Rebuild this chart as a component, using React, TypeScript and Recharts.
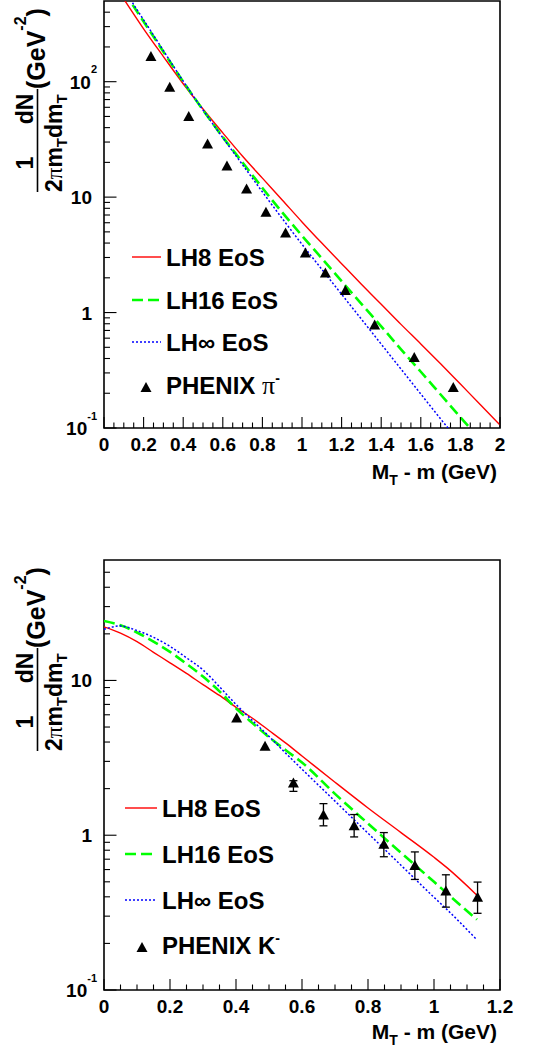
import React from 'react'
import { ComposedChart, Line, Scatter, XAxis, YAxis, ErrorBar, ReferenceArea, Legend } from 'recharts'

const FONT = '"Liberation Sans", Arial, Helvetica, sans-serif'
const SERIF = '"Liberation Serif", "Times New Roman", serif'
const RED = '#ff0000'
const GREEN = '#00ff00'
const BLUE = '#0000ff'

// ---- top panel: pions ----
const piCurveX = [0.1, 0.2, 0.3, 0.4, 0.5, 0.6, 0.7, 0.8, 0.9, 1.0, 1.1, 1.2, 1.3, 1.4, 1.5, 1.6, 1.7, 1.8, 1.9, 2.0]
const lh8Pi = [520, 287, 165, 96, 58, 36, 22.6, 14.6, 9.45, 6.1, 4.0, 2.65, 1.76, 1.18, 0.79, 0.535, 0.36, 0.24, 0.16, 0.106]
const lh16PiX = [0.1, 0.2, 0.3, 0.4, 0.5, 0.6, 0.7, 0.8, 0.9, 1.0, 1.1, 1.2, 1.3, 1.4, 1.5, 1.6, 1.7, 1.8, 1.86]
const lh16Pi = [604, 332, 182, 100, 56.9, 33.1, 19.95, 12.0, 7.38, 4.63, 2.95, 1.87, 1.19, 0.76, 0.48, 0.307, 0.195, 0.124, 0.095]
const lhInfPiX = [0.1, 0.2, 0.3, 0.4, 0.5, 0.6, 0.7, 0.8, 0.9, 1.0, 1.1, 1.2, 1.3, 1.4, 1.5, 1.6, 1.7, 1.75]
const lhInfPi = [631, 343, 186, 101, 56.9, 32.7, 19.05, 11.1, 6.53, 3.9, 2.37, 1.44, 0.877, 0.533, 0.324, 0.197, 0.12, 0.094]

const phenixPiX = [0.237, 0.332, 0.428, 0.523, 0.621, 0.72, 0.818, 0.917, 1.017, 1.118, 1.219, 1.367, 1.567, 1.764]
const phenixPiY = [167, 90.5, 50.4, 29.2, 18.8, 11.9, 7.48, 4.93, 3.31, 2.22, 1.57, 0.79, 0.413, 0.227]

const piXMajor = [0, 0.2, 0.4, 0.6, 0.8, 1, 1.2, 1.4, 1.6, 1.8, 2]
const piYMajor = [0.1, 1, 10, 100]
const piYMax = 500

// ---- bottom panel: kaons ----
const kCurveX = [0, 0.05, 0.1, 0.15, 0.2, 0.25, 0.3, 0.35, 0.4, 0.45, 0.5, 0.55, 0.6, 0.7, 0.8, 0.9, 1.0, 1.04, 1.13]
const lh8K = [22.2, 20.2, 17.8, 15.2, 13.0, 11.1, 9.4, 8.0, 6.7, 5.7, 4.75, 3.95, 3.25, 2.2, 1.5, 1.04, 0.72, 0.615, 0.41]
const lh16K = [24.2, 22.7, 20.4, 17.8, 15.3, 12.8, 10.6, 8.5, 6.6, 5.3, 4.3, 3.55, 2.95, 1.85, 1.19, 0.77, 0.5, 0.42, 0.285]
const lhInfK = [21.4, 22.5, 21.0, 19.0, 16.6, 14.0, 11.7, 9.1, 7.0, 5.5, 4.35, 3.4, 2.67, 1.66, 1.03, 0.64, 0.397, 0.33, 0.211]

const phenixKX = [0.402, 0.488, 0.574, 0.665, 0.758, 0.848, 0.942, 1.036, 1.132]
const phenixKY = [5.77, 3.78, 2.19, 1.36, 1.16, 0.88, 0.643, 0.44, 0.4]
// error bars only visible from the 3rd point on
const phenixKErrX = [0.574, 0.665, 0.758, 0.848, 0.942, 1.036, 1.132]
const phenixKErrY = [2.19, 1.36, 1.16, 0.88, 0.643, 0.44, 0.4]
const phenixKLo = [1.92, 1.15, 0.975, 0.726, 0.518, 0.343, 0.313]
const phenixKHi = [2.25, 1.6, 1.36, 1.04, 0.78, 0.555, 0.498]

const kXMajor = [0, 0.2, 0.4, 0.6, 0.8, 1, 1.2]
const kYMajor = [0.1, 1, 10]
const kYMax = 60

const toRows = (xs: number[], ys: number[]) => xs.map((x, i) => ({ x, y: ys[i] }))

function withMinorX(majors: number[]) {
  const out: number[] = []
  majors.forEach((m, i) => {
    out.push(m)
    if (i < majors.length - 1) {
      const step = (majors[i + 1] - m) / 4
      for (let k = 1; k < 4; k++) out.push(+(m + k * step).toFixed(3))
    }
  })
  return out
}

function withMinorLog(majors: number[], max: number) {
  const out: number[] = []
  majors.forEach((m) => {
    out.push(m)
    for (let k = 2; k <= 9; k++) {
      const v = +(m * k).toPrecision(3)
      if (v < max) out.push(v)
    }
  })
  return out
}

const fmt = (v: number) => String(+v.toFixed(1))

function XTick(props: any) {
  const { x, y, payload, majors } = props
  const v = payload.value
  const major = majors.includes(v)
  return (
    <g>
      <line x1={x} x2={x} y1={y} y2={y - (major ? 11 : 5.5)} stroke="#000" strokeWidth={1.1} />
      {major && (
        <text x={x} y={y + 23} textAnchor="middle" fontSize={19} fontWeight={700} fontFamily={FONT} fill="#000">
          {fmt(v)}
        </text>
      )}
    </g>
  )
}

function YTick(props: any) {
  const { x, y, payload, majors } = props
  const v = payload.value
  const major = majors.includes(v)
  let label = null
  if (major) {
    const exp = Math.round(Math.log10(v))
    if (exp === 0 || exp === 1) {
      label = (
        <text x={x - 12} y={y + 7} textAnchor="end" fontSize={19} fontWeight={700} fontFamily={FONT} fill="#000">
          {exp === 0 ? '1' : '10'}
        </text>
      )
    } else {
      label = (
        <text x={x - 7} y={y + 7} textAnchor="end" fontSize={19} fontWeight={700} fontFamily={FONT} fill="#000">
          10<tspan fontSize={11} dy={-15.5}>{exp}</tspan>
        </text>
      )
    }
  }
  return (
    <g>
      <line x1={x} x2={x + (major ? 12.5 : 6)} y1={y} y2={y} stroke="#000" strokeWidth={1.1} />
      {label}
    </g>
  )
}

function YTitle({ frameY }: { frameY: number }) {
  // rotated text: text-x = -screenY, text-y = screenX
  const t = frameY
  return (
    <g transform="rotate(-90)" fontFamily={FONT} fontWeight={700} fill="#000">
      <text x={-(t + 162)} y={33} textAnchor="middle" fontSize={23}>1</text>
      <text x={-(t + 108)} y={33} textAnchor="middle" fontSize={23}>dN</text>
      <line x1={-(t + 88)} x2={-(t + 191)} y1={37.5} y2={37.5} stroke="#000" strokeWidth={1.6} />
      <text x={-(t + 191)} y={62} fontSize={23}>
        2<tspan fontFamily={SERIF} fontWeight={400}>π</tspan>m<tspan fontSize={15} dy={5}>T</tspan>
        <tspan dy={-5}>dm</tspan><tspan fontSize={15} dy={5}>T</tspan>
      </text>
      <text x={-(t + 88)} y={45} fontSize={25}>
        (GeV<tspan fontSize={16} dy={-19}>-2</tspan><tspan dy={19}>)</tspan>
      </text>
    </g>
  )
}

function XTitle({ baseY }: { baseY: number }) {
  return (
    <text x={497} y={baseY} textAnchor="end" fontSize={21} fontWeight={700} fontFamily={FONT} fill="#000">
      M<tspan fontSize={14} dy={6}>T</tspan><tspan dy={-6}>{' - m (GeV)'}</tspan>
    </text>
  )
}

const Triangle = (p: any) => {
  const { cx, cy } = p
  if (cx == null || cy == null) return <g />
  return <polygon points={`${cx - 5.5},${cy + 5} ${cx + 5.5},${cy + 5} ${cx},${cy - 5}`} fill="#000" />
}

const seriesStyle = [
  { name: 'LH8 EoS', color: RED, dash: undefined as string | undefined, width: 1.4 },
  { name: 'LH16 EoS', color: GREEN, dash: '11 5', width: 2.6 },
  { name: 'LH\u221e EoS', color: BLUE, dash: '2 2', width: 1.5 },
]

function PanelLegend({ w, h, rows, lineX, textX, markerX, particle }: any) {
  return (
    <svg width={w} height={h} style={{ display: 'block' }}>
      {seriesStyle.map((s, i) => (
        <g key={s.name}>
          <line x1={lineX[0]} x2={lineX[1]} y1={rows[i]} y2={rows[i]} stroke={s.color} strokeWidth={s.width} strokeDasharray={s.dash} />
          <text x={textX} y={rows[i] + 8.6} fontSize={24} fontWeight={700} fontFamily={FONT} fill="#000">{s.name}</text>
        </g>
      ))}
      <Triangle cx={markerX} cy={rows[3] + 2} />
      <text x={textX} y={rows[3] + 8.6} fontSize={24} fontWeight={700} fontFamily={FONT} fill="#000">
        {particle === 'pi' ? (
          <>
            PHENIX <tspan fontFamily={SERIF} fontWeight={400} fontSize={26}>π</tspan>
            <tspan fontSize={14} dy={-11}>-</tspan>
          </>
        ) : (
          <>
            PHENIX K<tspan fontSize={14} dy={-11}>-</tspan>
          </>
        )}
      </text>
    </svg>
  )
}

function Panel(props: any) {
  const { height, margin, xMax, yMax, xMajor, yMajor, curves, points, errPoints, legend, xTitleY, frameTop } = props
  const xTicks = withMinorX(xMajor)
  const yTicks = withMinorLog(yMajor, yMax)
  return (
    <ComposedChart width={536} height={height} margin={margin} style={{ fontFamily: FONT }}>
      <XAxis
        type="number"
        dataKey="x"
        domain={[0, xMax]}
        allowDataOverflow
        ticks={xTicks}
        interval={0}
        tickSize={0}
        tickMargin={0}
        height={1}
        axisLine={false}
        tick={<XTick majors={xMajor} />}
        label={<XTitle baseY={xTitleY} />}
      />
      <YAxis
        type="number"
        scale="log"
        domain={[0.1, yMax]}
        allowDataOverflow
        ticks={yTicks}
        interval={0}
        tickSize={0}
        tickMargin={0}
        width={1}
        axisLine={false}
        tick={<YTick majors={yMajor} />}
        label={<YTitle frameY={frameTop} />}
      />
      <ReferenceArea x1={0} x2={xMax} y1={0.1} y2={yMax} fill="none" stroke="#000" strokeWidth={1.6} ifOverflow="visible" />
      {curves.map((c: any, i: number) => (
        <Line
          key={i}
          data={c}
          dataKey="y"
          type="monotone"
          stroke={seriesStyle[i].color}
          strokeWidth={seriesStyle[i].width}
          strokeDasharray={seriesStyle[i].dash}
          dot={false}
          activeDot={false}
          isAnimationActive={false}
        />
      ))}
      {errPoints && (
        <Scatter data={errPoints} dataKey="y" shape={() => <g />} isAnimationActive={false}>
          <ErrorBar dataKey="err" direction="y" width={4} stroke="#000" strokeWidth={1.3} />
        </Scatter>
      )}
      <Scatter data={points} dataKey="y" shape={Triangle} isAnimationActive={false} />
      <Legend
        layout="vertical"
        align="center"
        verticalAlign="middle"
        wrapperStyle={{ left: 0, top: 0, width: 536, height, pointerEvents: 'none' }}
        content={() => <PanelLegend w={536} h={height} {...legend} />}
      />
    </ComposedChart>
  )
}

export default function App() {
  const piCurves = [toRows(piCurveX, lh8Pi), toRows(lh16PiX, lh16Pi), toRows(lhInfPiX, lhInfPi)]
  const kCurves = [toRows(kCurveX, lh8K), toRows(kCurveX, lh16K), toRows(kCurveX, lhInfK)]
  const kErr = phenixKErrX.map((x, i) => ({
    x,
    y: phenixKErrY[i],
    err: [phenixKErrY[i] - phenixKLo[i], phenixKHi[i] - phenixKErrY[i]],
  }))
  return (
    <div style={{ position: 'absolute', left: 0, top: 0, width: 536, height: 1057, background: '#fff' }}>
      <div style={{ position: 'absolute', left: 0, top: 0 }}>
        <Panel
          height={530}
          margin={{ top: 1, right: 36, bottom: 101, left: 103 }}
          frameTop={1}
          xMax={2}
          yMax={piYMax}
          xMajor={piXMajor}
          yMajor={piYMajor}
          curves={piCurves}
          points={toRows(phenixPiX, phenixPiY)}
          xTitleY={479}
          legend={{ rows: [257, 300, 342, 385], lineX: [132, 161], textX: 166, markerX: 146, particle: 'pi' }}
        />
      </div>
      <div style={{ position: 'absolute', left: 0, top: 530 }}>
        <Panel
          height={527}
          margin={{ top: 30, right: 36, bottom: 66, left: 103 }}
          frameTop={30}
          xMax={1.2}
          yMax={kYMax}
          xMajor={kXMajor}
          yMajor={kYMajor}
          curves={kCurves}
          points={toRows(phenixKX, phenixKY)}
          errPoints={kErr}
          xTitleY={509}
          legend={{ rows: [278, 324, 370, 415], lineX: [125, 157], textX: 162, markerX: 142, particle: 'K' }}
        />
      </div>
    </div>
  )
}
